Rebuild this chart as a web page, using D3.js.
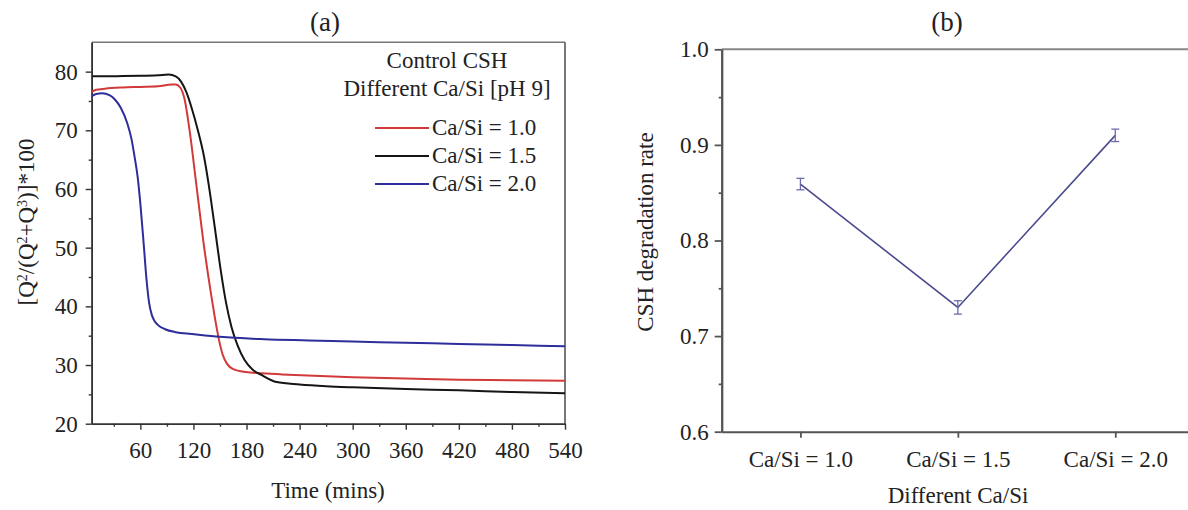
<!DOCTYPE html>
<html><head><meta charset="utf-8">
<script src="https://cdn.jsdelivr.net/npm/d3@7"></script>
<style>
html,body{margin:0;padding:0;background:#fff;}
svg{display:block;}
text{font-family:"Liberation Serif","Times New Roman",serif;fill:#222;}
</style></head>
<body>
<svg id="c" width="1188" height="510" font-family="Liberation Serif"></svg>
<script>
// ---------- Panel (a) data ----------
const timeTicks = [60,120,180,240,300,360,420,480,540];
const yTicksA = [20,30,40,50,60,70,80];
const seriesNames = ["Ca/Si = 1.0","Ca/Si = 1.5","Ca/Si = 2.0"];
const seriesColors = ["#d23a3a","#151515","#2d2d9c"];

const t10 = [5,10,20,40,60,80,95,100,105,110,116,123,132,140,144,149,153,158,165,179,197,220,249,300,360,420,480,540];
const v10 = [76.5,76.9,77.1,77.3,77.4,77.5,77.8,77.8,77.3,75.3,69.6,61.1,50.2,42,38.3,34.2,31.8,30.2,29.3,28.8,28.6,28.4,28.2,27.9,27.7,27.5,27.4,27.3];

const t15 = [5,20,40,60,80,92,100,106,112,118,125,132,139,145,151,157,163,170,178,187,197,214,240,270,300,360,420,480,540];
const v15 = [79.2,79.2,79.25,79.3,79.4,79.5,79.2,78.3,76.5,73.8,70,65.5,59,52.5,46,40.5,36.5,33.3,30.8,29.2,28.3,27.1,26.7,26.4,26.2,25.9,25.7,25.4,25.2];

const t20 = [5,10,17,25,31,38,45,50,54,57,60,64,67,70,73,76,80,88,100,118,150,200,250,300,360,420,480,540];
const v20 = [75.8,76.2,76.3,76.0,75.3,73.8,71.3,68.5,65,62,57.5,50.2,44.5,40.5,38.5,37.5,36.8,36.1,35.6,35.3,34.8,34.4,34.2,34.0,33.8,33.6,33.4,33.2];

// ---------- Panel (b) data ----------
const ratioCats = ["Ca/Si = 1.0","Ca/Si = 1.5","Ca/Si = 2.0"];
const degRate = [0.859,0.730,0.910];
const degErr = [0.006,0.007,0.0065];
const yTicksB = [0.6,0.7,0.8,0.9,1.0];

const FONT = "'Liberation Serif','Times New Roman',serif";
const svg = d3.select("#c");

// ================= Panel (a) =================
const A = {l:91.7, r:565, t:42.3, b:423.7};
const xA = d3.scaleLinear().domain([5,540]).range([A.l,A.r]);
const yA = d3.scaleLinear().domain([20,85]).range([A.b,A.t]);

const gA = svg.append("g");
gA.append("line").attr("x1",A.l).attr("x2",A.r).attr("y1",A.t).attr("y2",A.t).attr("stroke","#777").attr("stroke-width",1.6);
gA.append("line").attr("x1",A.r).attr("x2",A.r).attr("y1",A.t).attr("y2",A.b).attr("stroke","#555").attr("stroke-width",1.6);

const gxA = gA.append("g").attr("transform",`translate(0,${A.b})`)
  .call(d3.axisBottom(xA).tickValues(timeTicks).tickSize(6).tickPadding(6).tickSizeOuter(0));
const gyA = gA.append("g").attr("transform",`translate(${A.l},0)`)
  .call(d3.axisLeft(yA).tickValues(yTicksA).tickSize(6).tickPadding(8).tickSizeOuter(0));
gA.append("g").attr("transform",`translate(0,${A.b})`).call(d3.axisBottom(xA).tickValues(d3.range(30,540,60)).tickSize(3).tickFormat("").tickSizeOuter(0));
gA.append("g").attr("transform",`translate(${A.l},0)`).call(d3.axisLeft(yA).tickValues([25,35,45,55,65,75]).tickSize(3).tickFormat("").tickSizeOuter(0));

gA.selectAll("g").attr("font-family",FONT);
gA.selectAll("g .domain").attr("stroke","#333").attr("stroke-width",1.6);
gA.selectAll("g .tick line").attr("stroke","#333").attr("stroke-width",1.4);
gA.selectAll("g .tick text").style("font-size","23px").attr("fill","#222").style("font-family",FONT);
gxA.selectAll("text").attr("dy","0.95em");

const lineGen = d3.line().x(d=>xA(d[0])).y(d=>yA(d[1])).curve(d3.curveMonotoneX);
const series = [
  {name:seriesNames[0], color:seriesColors[0], pts:d3.zip(t10,v10)},
  {name:seriesNames[1], color:seriesColors[1], pts:d3.zip(t15,v15)},
  {name:seriesNames[2], color:seriesColors[2], pts:d3.zip(t20,v20)}
];
svg.append("defs").append("clipPath").attr("id","clipA").append("rect")
  .attr("x",A.l).attr("y",A.t).attr("width",A.r-A.l).attr("height",A.b-A.t);
gA.append("g").attr("clip-path","url(#clipA)").selectAll("path").data(series).join("path")
  .attr("d",d=>lineGen(d.pts)).attr("fill","none").attr("stroke",d=>d.color).attr("stroke-width",2);

// legend
gA.append("text").attr("x",447).attr("y",68).attr("text-anchor","middle").style("font-size","23px").text("Control CSH");
gA.append("text").attr("x",447).attr("y",96).attr("text-anchor","middle").style("font-size","23px").text("Different Ca/Si [pH 9]");
const leg = gA.append("g").selectAll("g").data(series).join("g")
  .attr("transform",(d,i)=>`translate(0,${135+i*28})`);
leg.append("line").attr("x1",375).attr("x2",429).attr("y1",-7).attr("y2",-7)
  .attr("stroke",d=>d.color).attr("stroke-width",2);
leg.append("text").attr("x",432).attr("y",0).style("font-size","23px").text(d=>d.name);

gA.append("text").attr("x",325).attr("y",31).attr("text-anchor","middle").style("font-size","27px").text("(a)");
gA.append("text").attr("x",328).attr("y",498).attr("text-anchor","middle").style("font-size","23px").text("Time (mins)");
const yl = gA.append("text").attr("transform","translate(34,222) rotate(-90)").attr("text-anchor","middle").style("font-size","23px");
yl.append("tspan").text("[Q");
yl.append("tspan").attr("baseline-shift","super").style("font-size","14px").text("2");
yl.append("tspan").text("/(Q");
yl.append("tspan").attr("baseline-shift","super").style("font-size","14px").text("2");
yl.append("tspan").text("+Q");
yl.append("tspan").attr("baseline-shift","super").style("font-size","14px").text("3");
yl.append("tspan").text(")]*100");

// ================= Panel (b) =================
const B = {l:721.7, r:1194, t:49.3, b:431.7};
const xB = d3.scalePoint().domain(ratioCats).range([B.l,B.r]).padding(0.5);
const yB = d3.scaleLinear().domain([0.6,1.0]).range([B.b,B.t]);
const gB = svg.append("g");
gB.append("line").attr("x1",B.l).attr("x2",B.r).attr("y1",B.t).attr("y2",B.t).attr("stroke","#888").attr("stroke-width",2);
gB.append("line").attr("x1",B.r).attr("x2",B.r).attr("y1",B.t).attr("y2",B.b).attr("stroke","#666").attr("stroke-width",2);

const gxB = gB.append("g").attr("transform",`translate(0,${B.b})`)
  .call(d3.axisBottom(xB).tickSize(6).tickPadding(7).tickSizeOuter(0));
const gyB = gB.append("g").attr("transform",`translate(${B.l},0)`)
  .call(d3.axisLeft(yB).tickValues(yTicksB).tickFormat(d3.format(".1f")).tickSize(7).tickPadding(6).tickSizeOuter(0));
gB.append("g").attr("transform",`translate(${B.l},0)`)
  .call(d3.axisLeft(yB).tickValues([0.65,0.75,0.85,0.95]).tickSize(3).tickFormat("").tickSizeOuter(0));
gB.selectAll("g").attr("font-family",FONT);
gB.selectAll(".domain").attr("stroke","#555").attr("stroke-width",2);
gB.selectAll(".tick line").attr("stroke","#555").attr("stroke-width",1.8);
gB.selectAll(".tick text").style("font-size","23px").attr("fill","#222").style("font-family",FONT);
gxB.selectAll("text").attr("dy","0.95em");

const ptsB = ratioCats.map((c,i)=>({c, v:degRate[i], e:degErr[i]}));
gB.append("path").datum(ptsB)
  .attr("d",d3.line().x(d=>xB(d.c)).y(d=>yB(d.v)))
  .attr("fill","none").attr("stroke","#4a4a8e").attr("stroke-width",1.6);
const eb = gB.append("g").selectAll("g").data(ptsB).join("g");
eb.append("line").attr("x1",d=>xB(d.c)).attr("x2",d=>xB(d.c)).attr("y1",d=>yB(d.v-d.e)).attr("y2",d=>yB(d.v+d.e))
  .attr("stroke","#6b6bab").attr("stroke-width",1.3);
eb.append("line").attr("x1",d=>xB(d.c)-4).attr("x2",d=>xB(d.c)+4).attr("y1",d=>yB(d.v-d.e)).attr("y2",d=>yB(d.v-d.e))
  .attr("stroke","#6b6bab").attr("stroke-width",1.3);
eb.append("line").attr("x1",d=>xB(d.c)-4).attr("x2",d=>xB(d.c)+4).attr("y1",d=>yB(d.v+d.e)).attr("y2",d=>yB(d.v+d.e))
  .attr("stroke","#6b6bab").attr("stroke-width",1.3);

gB.append("text").attr("x",947).attr("y",31).attr("text-anchor","middle").style("font-size","27px").text("(b)");
gB.append("text").attr("x",958).attr("y",503).attr("text-anchor","middle").style("font-size","23px").text("Different Ca/Si");
gB.append("text").attr("transform","translate(653,232) rotate(-90)").attr("text-anchor","middle").style("font-size","23px").text("CSH degradation rate");
</script>
</body></html>
